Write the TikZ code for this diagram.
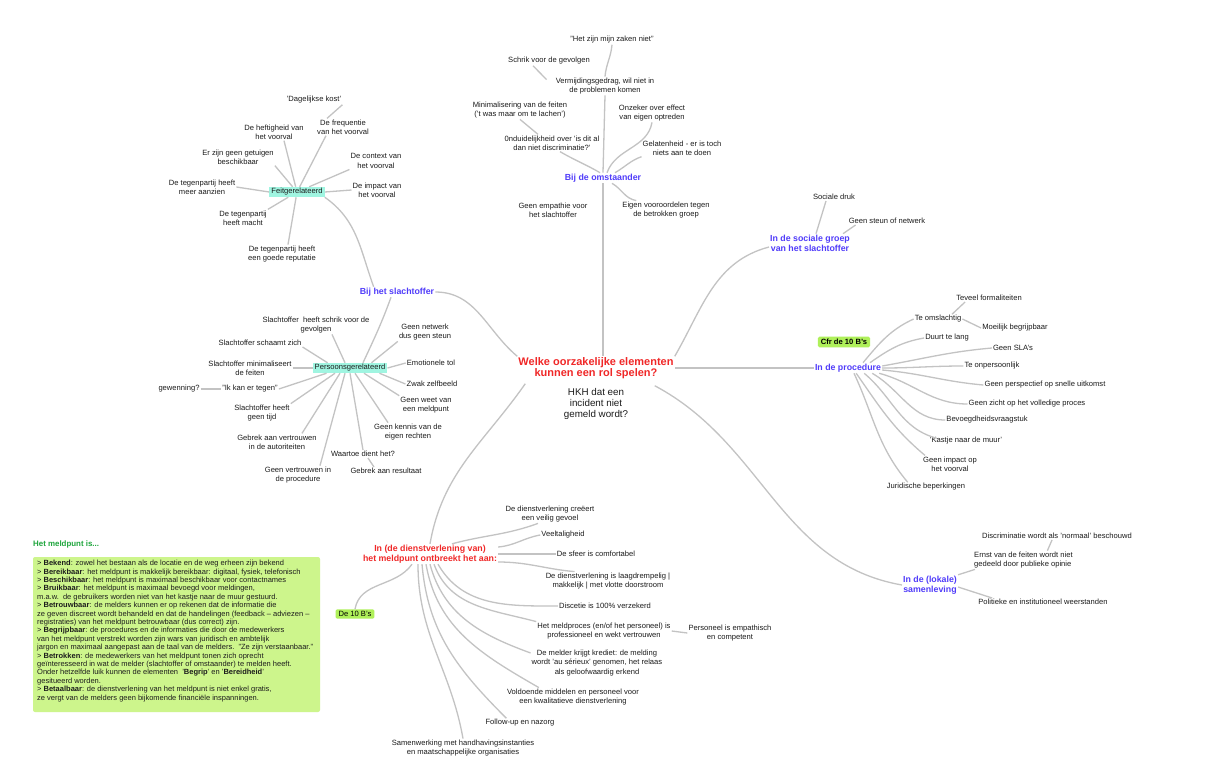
\documentclass[tikz,border=0pt]{standalone}
\usepackage{fontspec}
\setmainfont{Liberation Sans}
\usetikzlibrary{calc}
\definecolor{hblue}{RGB}{80,60,250}
\definecolor{hred}{RGB}{240,40,40}
\definecolor{hgreen}{RGB}{30,165,60}
\definecolor{lgray}{RGB}{195,195,195}
\definecolor{cyanfill}{RGB}{160,245,225}
\definecolor{limefill}{RGB}{175,240,90}
\definecolor{boxfill}{RGB}{205,245,140}
\definecolor{txt}{RGB}{28,28,28}
\newcommand\lblf{\fontsize{7.6}{9.3}\selectfont}
\newcommand\hdrf{\fontsize{8.8}{9.8}\selectfont\bfseries}
\newcommand\ttlf{\fontsize{11}{10.8}\selectfont\bfseries}
\newcommand\hkhf{\fontsize{9.8}{10.8}\selectfont}
\newcommand\boxf{\fontsize{7.5}{8.4}\selectfont}
\tikzset{
  lbl/.style={font=\lblf, align=center, inner sep=1pt, text=txt},
  hdr/.style={font=\hdrf, align=center, inner sep=1pt, text=hblue},
  ln/.style={draw=lgray, line width=1.3pt},
  cbox/.style={font=\lblf, inner xsep=2pt, inner ysep=1.5pt, fill=cyanfill, text=txt},
  gbox/.style={font=\lblf, inner xsep=3pt, inner ysep=2.5pt, fill=limefill, rounded corners=1.5pt, text=black},
}
\begin{document}
\begin{tikzpicture}[x=1pt,y=-1pt]
\useasboundingbox (0,0) rectangle (1213,772);
\fill[white] (0,0) rectangle (1213,772);

% centre
\node[font=\ttlf, text=hred, align=center, inner sep=1pt] (title) at (596,368) {Welke oorzakelijke elementen\\kunnen een rol spelen?};
\node[font=\hkhf, text=txt, align=center, inner sep=1pt] (hkh) at (596,404) {HKH dat een\\incident niet\\gemeld wordt?};

% omstaander
\node[hdr] (om) at (603,178) {Bij de omstaander};
\node[lbl] (o1) at (612,40) {"Het zijn mijn zaken niet"};
\node[lbl] (o2) at (549,61) {Schrik voor de gevolgen};
\node[lbl] (o3) at (605,86) {Vermijdingsgedrag, wil niet in\\de problemen komen};
\node[lbl] (o4) at (520,110) {Minimalisering van de feiten\\('t was maar om te lachen')};
\node[lbl] (o5) at (652,113) {Onzeker over effect\\van eigen optreden};
\node[lbl] (o6) at (552,143) {0nduidelijkheid over 'is dit al\\dan niet discriminatie?'};
\node[lbl] (o7) at (682,148) {Gelatenheid - er is toch\\niets aan te doen};
\node[lbl] (o8) at (553,210) {Geen empathie voor\\het slachtoffer};
\node[lbl] (o9) at (666,210) {Eigen vooroordelen tegen\\de betrokken groep};

\draw[ln] (om.south) -- (om.south |- title.north);
\draw[ln] (om.north) -- (o3.south);
\draw[ln] (o3.north) to[out=85,in=-95] (o1.south);
\draw[ln] ($(o2.south)+(-16,0)$) -- ($(o3.north west)+(-8,3)$);
\draw[ln] (o4.south) -- ($(o6.north)+(-14,0)$);
\draw[ln] ($(o6.south)+(8,0)$) to[out=-30,in=150] ($(om.north)+(-3,0)$);
\draw[ln] (o5.south) to[out=-100,in=70] ($(om.north)+(4,0)$);
\draw[ln] (o7.south west) to[out=200,in=30] ($(om.north)+(12,0)$);
\draw[ln] ($(om.south)+(9,0)$) to[out=-30,in=170] ($(o9.north west)+(15,0)$);

% slachtoffer
\node[hdr] (slt) at (397,292) {Bij het slachtoffer};
\node[cbox] (feit) at (297,192) {Feitgerelateerd};
\node[lbl] (f1) at (314,100) {'Dagelijkse kost'};
\node[lbl] (f2) at (343,127) {De frequentie\\van het voorval};
\node[lbl] (f3) at (274,132) {De heftigheid van\\het voorval};
\node[lbl] (f4) at (238,157) {Er zijn geen getuigen\\beschikbaar};
\node[lbl] (f5) at (376,161) {De context van\\het voorval};
\node[lbl] (f6) at (202,187) {De tegenpartij heeft\\meer aanzien};
\node[lbl] (f7) at (377,190) {De impact van\\het voorval};
\node[lbl] (f8) at (243,218) {De tegenpartij\\heeft macht};
\node[lbl] (f9) at (282,254) {De tegenpartij heeft\\een goede reputatie};

\draw[ln] (f1.south east) -- ($(f2.north)+(-16,0)$);
\draw[ln] ($(f2.south)+(-17,0)$) -- (feit);
\draw[ln] ($(f3.south)+(10,0)$) -- (feit);
\draw[ln] (f4.south east) -- (feit);
\draw[ln] (f5.south west) -- (feit);
\draw[ln] (f6.east) -- (feit.west);
\draw[ln] (f7.west) -- (feit.east);
\draw[ln] (f8.north east) -- (feit);
\draw[ln] ($(f9.north)+(6,0)$) -- (feit);
\draw[ln] (feit.south east) to[out=-35,in=110] ($(slt.north west)+(15,0)$);

\node[cbox] (pers) at (350,368) {Persoonsgerelateerd};
\node[lbl] (p1) at (316,325) {Slachtoffer\ \ heeft schrik voor de\\gevolgen};
\node[lbl] (p2) at (260,343) {Slachtoffer schaamt zich};
\node[lbl] (p3) at (250,368) {Slachtoffer minimaliseert\\de feiten};
\node[lbl] (p4) at (250,389) {"Ik kan er tegen"};
\node[lbl] (p4b) at (179,389) {gewenning?};
\node[lbl] (p5) at (262,413) {Slachtoffer heeft\\geen tijd};
\node[lbl] (p6) at (277,442) {Gebrek aan vertrouwen\\in de autoriteiten};
\node[lbl] (p7) at (298,475) {Geen vertrouwen in\\de procedure};
\node[lbl] (p8) at (363,454) {Waartoe dient het?};
\node[lbl] (p8b) at (386,471) {Gebrek aan resultaat};
\node[lbl] (p9) at (425,332) {Geen netwerk\\dus geen steun};
\node[lbl] (p10) at (431,363) {Emotionele tol};
\node[lbl] (p11) at (432,384) {Zwak zelfbeeld};
\node[lbl] (p12) at (426,405) {Geen weet van\\een meldpunt};
\node[lbl] (p13) at (408,432) {Geen kennis van de\\eigen rechten};

\draw[ln] ($(p1.south)+(16,0)$) -- ($(pers.north)+(-5,0)$);
\draw[ln] (p2.south east) -- ($(pers.north west)+(15,0)$);
\draw[ln] (p3.east) -- (pers.west);
\draw[ln] (p4.east) -- ($(pers.south west)+(14,0)$);
\draw[ln] (p4b.east) -- (p4.west);
\draw[ln] (p5.north east) -- ($(pers.south)+(-15,0)$);
\draw[ln] ($(p6.north)+(25,0)$) -- ($(pers.south)+(-10,0)$);
\draw[ln] ($(p7.north)+(22,0)$) -- ($(pers.south)+(-5,0)$);
\draw[ln] (p8.north) -- (pers.south);
\draw[ln] ($(p8.south)+(5,0)$) -- ($(p8b.north)+(-12,0)$);
\draw[ln] ($(p13.north)+(-20,0)$) -- ($(pers.south)+(5,0)$);
\draw[ln] (p12.north west) -- ($(pers.south)+(14,0)$);
\draw[ln] (p11.west) -- ($(pers.south east)+(-8,0)$);
\draw[ln] (p10.west) -- (pers.east);
\draw[ln] (p9.south west) -- ($(pers.north east)+(-16,0)$);
\draw[ln] ($(slt.south)+(-6,0)$) to[out=250,in=65] ($(pers.north)+(13,0)$);

% sociale groep
\node[hdr] (soc) at (810,243) {In de sociale groep\\van het slachtoffer};
\node[lbl] (sd) at (834,197) {Sociale druk};
\node[lbl] (sg) at (887,221) {Geen steun of netwerk};
\draw[ln] ($(sd.south)+(-8,0)$) -- ($(soc.north)+(6,0)$);
\draw[ln] ($(sg.south west)+(8,0)$) -- ($(soc.north east)+(-8,0)$);

% procedure
\node[hdr] (proc) at (848,368) {In de procedure};
\node[gbox, font=\lblf\bfseries] (cfr) at (844,342) {Cfr de 10 B's};
\node[lbl] (pc1) at (989,298) {Teveel formaliteiten};
\node[lbl] (pc2) at (938,319) {Te omslachtig};
\node[lbl] (pc3) at (1015,328) {Moeilijk begrijpbaar};
\node[lbl] (pc4) at (947,338) {Duurt te lang};
\node[lbl] (pc5) at (1013,348) {Geen SLA's};
\node[lbl] (pc6) at (992,366) {Te onpersoonlijk};
\node[lbl] (pc7) at (1045,385) {Geen perspectief op snelle uitkomst};
\node[lbl] (pc8) at (1027,404) {Geen zicht op het volledige proces};
\node[lbl] (pc9) at (987,420) {Bevoegdheidsvraagstuk};
\node[lbl] (pc10) at (966,441) {'Kastje naar de muur'};
\node[lbl] (pc11) at (950,464) {Geen impact op\\het voorval};
\node[lbl] (pc12) at (926,487) {Juridische beperkingen};

\draw[ln] ($(pc2.north)+(14,0)$) -- ($(pc1.south west)+(10,0)$);
\draw[ln] (pc2.east) -- (pc3.west);
\draw[ln] ($(proc.north)+(15,0)$) to[out=50,in=205] (pc2.west);
\draw[ln] ($(proc.north)+(22,0)$) to[out=35,in=190] (pc4.west);
\draw[ln] ($(proc.east)+(0,-2)$) to[out=10,in=185] (pc5.west);
\draw[ln] (proc.east) to[out=0,in=180] (pc6.west);
\draw[ln] ($(proc.east)+(0,2)$) to[out=-5,in=175] (pc7.west);
\draw[ln] ($(proc.south east)+(-3,0)$) to[out=-15,in=180] (pc8.west);
\draw[ln] ($(proc.south east)+(-10,0)$) to[out=-30,in=180] (pc9.west);
\draw[ln] ($(proc.south east)+(-18,0)$) to[out=-40,in=165] ($(pc10.north west)+(8,2)$);
\draw[ln] ($(proc.south east)+(-26,0)$) to[out=-55,in=140] ($(pc11.north west)+(3,0)$);
\draw[ln] ($(proc.south)+(6,0)$) to[out=-65,in=130] ($(pc12.north west)+(22,0)$);

% samenleving
\node[hdr] (sam) at (930,585) {In de (lokale)\\samenleving};
\node[lbl] (s1) at (1057,536) {Discriminatie wordt als 'normaal' beschouwd};
\node[lbl, align=left, anchor=west] (s2) at (973,560) {Ernst van de feiten wordt niet\\gedeeld door publieke opinie};
\node[lbl] (s3) at (1043,602) {Politieke en institutioneel weerstanden};
\draw[ln] ($(s1.south)+(-5,0)$) -- ($(s2.north)+(24,0)$);
\draw[ln] (sam.north east) -- ($(s2.south west)+(2,0)$);
\draw[ln] ($(sam.east)+(0,2)$) -- ($(s3.north west)+(15,0)$);

% dienstverlening
\node[font=\hdrf, text=hred, align=center, inner sep=1pt] (dv) at (430,554) {In (de dienstverlening van)\\het meldpunt ontbreekt het aan:};
\node[lbl] (d1) at (550,514) {De dienstverlening creëert\\een veilig gevoel};
\node[lbl] (d2) at (563,535) {Veeltaligheid};
\node[lbl] (d3) at (596,554) {De sfeer is comfortabel};
\node[lbl] (d4) at (608,581) {De dienstverlening is laagdrempelig |\\makkelijk | met vlotte doorstroom};
\node[lbl] (d5) at (605,606) {Discetie is 100\% verzekerd};
\node[lbl] (d6) at (604,631) {Het meldproces (en/of het personeel) is\\professioneel en wekt vertrouwen};
\node[lbl] (d6b) at (730,633) {Personeel is empathisch\\en competent};
\node[lbl] (d7) at (597,663) {De melder krijgt krediet: de melding\\wordt 'au sérieux' genomen, het relaas\\als geloofwaardig erkend};
\node[lbl] (d8) at (573,697) {Voldoende middelen en personeel voor\\een kwalitatieve dienstverlening};
\node[lbl] (d9) at (520,723) {Follow-up en nazorg};
\node[lbl] (d10) at (463,748) {Samenwerking met handhavingsinstanties\\en maatschappelijke organisaties};
\node[gbox, inner ysep=2pt] (b10) at (355,614) {De 10 B's};

\draw[ln] ($(dv.north)+(22,0)$) to[out=15,in=200] ($(d1.south)+(-12,0)$);
\draw[ln] ($(dv.east)+(0,-7)$) to[out=5,in=190] (d2.west);
\draw[ln] (dv.east) -- (d3.west);
\draw[ln] ($(dv.east)+(0,8)$) to[out=0,in=175] ($(d4.north west)+(30,0)$);
\draw[ln] ($(dv.south)+(8,0)$) to[out=-60,in=180] (d5.west);
\draw[ln] ($(dv.south)+(4,0)$) to[out=-70,in=165] (d6.north west);
\draw[ln] (d6.east) -- (d6b.west);
\draw[ln] (dv.south) to[out=-75,in=160] ($(d7.north west)+(0,4)$);
\draw[ln] ($(dv.south)+(-4,0)$) to[out=-80,in=150] ($(d8.north west)+(33,0)$);
\draw[ln] ($(dv.south)+(-8,0)$) to[out=-85,in=135] ($(d9.north west)+(22,0)$);
\draw[ln] ($(dv.south)+(-12,0)$) to[out=-90,in=100] (d10.north);
\draw[ln] ($(dv.south)+(-18,0)$) to[out=235,in=80] (b10.north);

% main branches
\draw[ln] (slt.east) to[out=0,in=140] (title.north west);
\draw[ln] (title.north east) to[out=60,in=195] ($(soc.west)+(0,4)$);
\draw[ln] (title.east) -- (proc.west);
\draw[ln] ($(title.south east)+(-20,6)$) to[out=-28,in=170] (sam.west);
\draw[ln] ($(title.south west)+(8,4)$) to[out=235,in=80] (dv.north);

% meldpunt box
\node[font=\fontsize{7.9}{9}\selectfont\bfseries, text=hgreen, anchor=west, inner sep=0pt] (mh) at (33,544) {Het meldpunt is...};
\fill[boxfill, rounded corners=2pt] (33,557) rectangle (320,712);
\node[font=\boxf, text=txt, align=left, anchor=north west, inner sep=0pt] (mb) at (37,560) {%
> \textbf{Bekend}: zowel het bestaan als de locatie en de weg erheen zijn bekend\\
> \textbf{Bereikbaar}: het meldpunt is makkelijk bereikbaar: digitaal, fysiek, telefonisch\\
> \textbf{Beschikbaar}: het meldpunt is maximaal beschikbaar voor contactnames\\
> \textbf{Bruikbaar}: het meldpunt is maximaal bevoegd voor meldingen,\\
m.a.w.\ \ de gebruikers worden niet van het kastje naar de muur gestuurd.\\
> \textbf{Betrouwbaar}: de melders kunnen er op rekenen dat de informatie die\\
ze geven discreet wordt behandeld en dat de handelingen (feedback -- adviezen --\\
registraties) van het meldpunt betrouwbaar (dus correct) zijn.\\
> \textbf{Begrijpbaar}: de procedures en de informaties die door de medewerkers\\
van het meldpunt verstrekt worden zijn wars van juridisch en ambtelijk\\
jargon en maximaal aangepast aan de taal van de melders.\ \ "Ze zijn verstaanbaar."\\
> \textbf{Betrokken}: de medewerkers van het meldpunt tonen zich oprecht\\
geïnteresseerd in wat de melder (slachtoffer of omstaander) te melden heeft.\\
Onder hetzelfde luik kunnen de elementen\ \ '\textbf{Begrip}' en '\textbf{Bereidheid}'\\
gesitueerd worden.\\
> \textbf{Betaalbaar}: de dienstverlening van het meldpunt is niet enkel gratis,\\
ze vergt van de melders geen bijkomende financiële inspanningen.};
\end{tikzpicture}
\end{document}
